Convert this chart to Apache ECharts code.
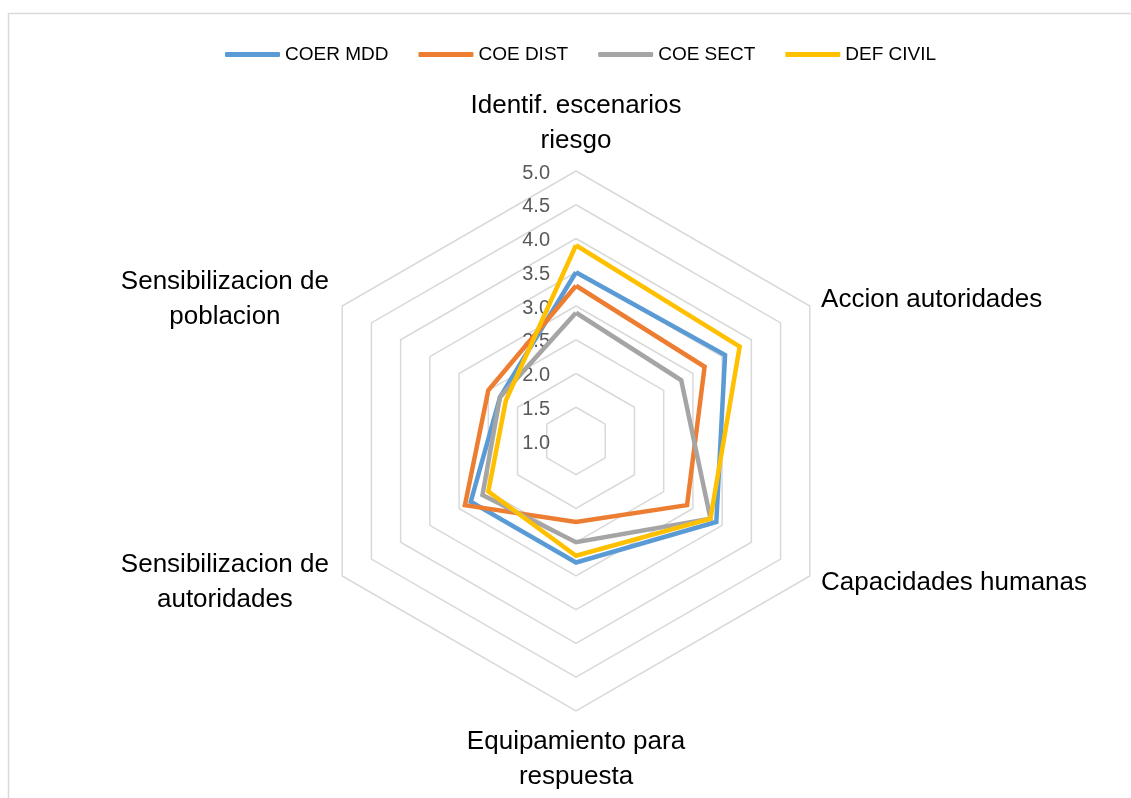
<!DOCTYPE html>
<html>
<head>
<meta charset="utf-8">
<script src="https://cdn.jsdelivr.net/npm/echarts@6/dist/echarts.min.js"></script>
<style>
html,body{margin:0;padding:0;background:#fff;}
#chart{width:1131px;height:798px;}
</style>
</head>
<body>
<div id="chart"></div>
<script>
// Categories in the reference's clockwise order (starting at top)
const categories = [
  'Identif. escenarios\nriesgo',
  'Accion autoridades',
  'Capacidades humanas',
  'Equipamiento para\nrespuesta',
  'Sensibilizacion de\nautoridades',
  'Sensibilizacion de\npoblacion'
];
const seriesNames = ['COER MDD', 'COE DIST', 'COE SECT', 'DEF CIVIL'];
const coerMdd  = [3.5, 3.55, 3.4, 2.8, 2.8, 2.3];
const coeDist  = [3.3, 3.2, 2.9, 2.2, 2.9, 2.5];
const coeSect  = [2.9, 2.8, 3.3, 2.5, 2.6, 2.3];
const defCivil = [3.9, 3.8, 3.3, 2.7, 2.5, 2.2];
const tickLabels = ['1.0','1.5','2.0','2.5','3.0','3.5','4.0','4.5','5.0'];
const axisMin = 1, axisMax = 5, axisStep = 0.5;

const colors = ['#5B9BD5', '#ED7D31', '#A5A5A5', '#FFC000'];

// ECharts radar goes counter-clockwise from top; reorder so the drawing runs clockwise
const order = [0, 5, 4, 3, 2, 1];
const reorder = arr => order.map(i => arr[i]);
const allSeries = [coerMdd, coeDist, coeSect, defCivil];

const chart = echarts.init(document.getElementById('chart'), null, {renderer: 'canvas'});
const FONT = 'Liberation Sans';

chart.setOption({
  animation: false,
  backgroundColor: '#ffffff',
  textStyle: {fontFamily: FONT},
  graphic: [{
    type: 'rect',
    shape: {x: 8.5, y: 13.5, width: 1200, height: 900},
    style: {fill: 'none', stroke: '#d9d9d9', lineWidth: 1.5},
    silent: true, z: -10
  }],
  legend: {
    top: 40,
    left: 220,
    itemWidth: 55,
    itemHeight: 5,
    itemGap: 30,
    icon: 'roundRect',
    data: seriesNames,
    textStyle: {fontFamily: FONT, fontSize: 19, color: '#000'}
  },
  grid: {left: 556, top: 173, height: 270, width: 10, containLabel: false},
  xAxis: {type: 'value', show: false},
  yAxis: {
    type: 'value', min: axisMin, max: axisMax, interval: axisStep,
    axisLine: {show: false}, axisTick: {show: false}, splitLine: {show: false},
    axisLabel: {
      margin: 6, fontFamily: FONT, fontSize: 20, color: '#595959',
      formatter: v => tickLabels[Math.round((v - axisMin) / axisStep)]
    }
  },
  radar: {
    center: [576, 441],
    radius: 270,
    shape: 'polygon',
    splitNumber: 8,
    startAngle: 90,
    indicator: reorder(categories).map(name => ({name: name, min: axisMin, max: axisMax})),
    axisName: {
      color: '#000',
      fontFamily: FONT,
      fontSize: 26,
      lineHeight: 35,
      formatter: function (name) {
        if (name.indexOf('Sensibilizacion') === 0) {
          return name.split('\n').map(l => '{c|' + l + '}').join('\n');
        }
        return name;
      },
      rich: {
        c: {width: 212, align: 'center', fontSize: 26, lineHeight: 35, color: '#000', fontFamily: FONT}
      }
    },
    nameGap: 13,
    axisLine: {show: false},
    axisTick: {show: false},
    axisLabel: {show: false},
    splitArea: {show: false},
    splitLine: {lineStyle: {color: '#d9d9d9', width: 1.5}}
  },
  series: [{
    type: 'radar',
    symbol: 'none',
    data: seriesNames.map((n, i) => ({
      name: n,
      value: reorder(allSeries[i]),
      itemStyle: {color: colors[i]},
      lineStyle: {color: colors[i], width: 4.5, join: 'miter'}
    }))
  }]
});
</script>
</body>
</html>
